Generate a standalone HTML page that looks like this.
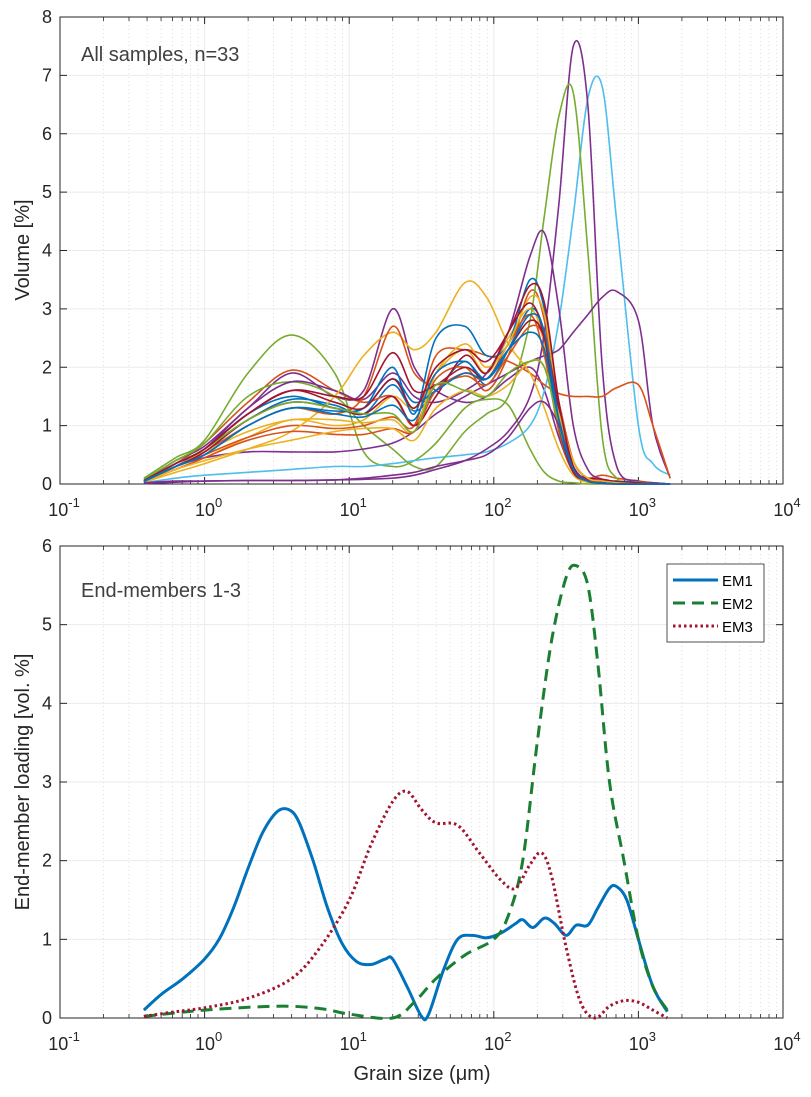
<!DOCTYPE html>
<html><head><meta charset="utf-8">
<style>
body{margin:0;background:#fff;}
svg{display:block;font-family:"Liberation Sans",sans-serif;}
</style></head>
<body>
<svg id="chart" width="811" height="1097" viewBox="0 0 811 1097" xmlns="http://www.w3.org/2000/svg">
<rect width="811" height="1097" fill="#fff"/>
<g id="top"></g>
<g id="bot"></g>
</svg>
<script>
// ---- data ----
const gridLogX = [-0.42,-0.2,0,0.3,0.6,0.9,1.1,1.3,1.45,1.6,1.8,1.95,2.1,2.25,2.35,2.45,2.55,2.65,2.75,2.85,3.0,3.1,3.22];
const sampleColors = ["#0072BD","#D95319","#EDB120","#7E2F8E","#77AC30","#4DBEEE","#A2142F"];
const s01 = [0.05,0.3,0.6,1.1,1.45,1.35,1.2,1.7,1.25,1.6,2.1,1.7,2.3,3.0,2.6,1.2,0.3,0.05,0.05,0.05,0.03,0.02,0];
const s02 = [0.06,0.35,0.7,1.4,1.95,1.6,1.4,1.5,1.0,1.8,2.0,1.6,2.2,3.3,2.8,1.0,0.2,0.1,0.15,0.1,0.05,0.02,0];
const s03 = [0.04,0.25,0.45,0.8,1.1,1.0,1.1,1.5,1.3,1.9,2.3,1.9,2.5,3.0,2.4,1.0,0.25,0.05,0.03,0.02,0.01,0,0];
const s04 = [0.05,0.4,0.65,1.3,1.9,1.5,1.6,3.0,2.0,1.6,1.4,1.5,1.8,2.0,1.6,0.8,0.2,0.03,0.02,0.01,0,0,0];
const s05 = [0.1,0.45,0.75,1.9,2.55,1.9,0.55,0.3,0.4,0.7,1.3,1.45,1.35,0.6,0.2,0.05,0.02,0,0,0,0,0,0];
const s06 = [0.02,0.1,0.15,0.2,0.25,0.3,0.3,0.35,0.4,0.45,0.5,0.55,0.7,1.0,1.6,2.8,4.6,6.6,6.8,4.5,1.0,0.35,0.15];
const s07 = [0.01,0.03,0.05,0.06,0.06,0.07,0.08,0.1,0.15,0.25,0.4,0.6,0.9,1.5,2.6,4.8,7.5,6.5,2.0,0.3,0.05,0.02,0];
const s08 = [0.08,0.4,0.7,1.5,1.75,1.5,1.0,0.6,0.3,0.3,0.9,1.2,1.5,2.8,4.6,6.3,6.7,4.0,0.8,0.1,0.03,0,0];
const s09 = [0.05,0.35,0.6,1.3,1.75,1.6,1.45,1.9,1.5,1.4,1.6,1.9,2.6,3.9,4.3,3.0,1.0,0.25,0.08,0.03,0.01,0,0];
const s10 = [0.05,0.3,0.45,0.55,0.55,0.55,0.6,0.7,0.9,1.2,1.5,1.7,1.9,2.1,2.2,2.3,2.6,2.9,3.2,3.3,2.8,1.0,0.1];
const s11 = [0.05,0.3,0.5,0.8,1.0,0.95,1.0,1.15,1.0,2.2,2.3,2.2,2.1,1.9,1.7,1.55,1.5,1.5,1.5,1.65,1.7,1.0,0.1];
const s12 = [0.03,0.2,0.35,0.6,0.9,1.5,2.2,2.6,2.3,2.6,3.45,3.2,2.4,1.9,1.3,0.6,0.15,0.03,0.01,0,0,0,0];
const s13 = [0.04,0.3,0.55,1.0,1.3,1.2,1.5,2.7,1.9,1.7,1.9,1.8,2.4,2.9,2.2,0.9,0.2,0.05,0.02,0,0,0,0];
const s14 = [0.05,0.35,0.6,1.2,1.5,1.3,1.3,2.0,1.2,2.5,2.7,2.2,2.4,3.5,3.0,1.4,0.3,0.1,0.03,0.01,0,0,0];
const s15 = [0.04,0.3,0.55,0.9,1.1,1.1,1.05,1.1,0.9,1.9,2.4,2.0,2.4,3.2,2.9,1.3,0.3,0.05,0.02,0,0,0,0];
const s16 = [0.05,0.3,0.55,1.1,1.4,1.3,1.2,1.5,1.0,1.5,2.2,1.9,2.6,3.1,2.5,1.0,0.2,0.1,0.08,0.04,0.02,0,0];
const s17 = [0.04,0.25,0.45,0.75,0.9,0.85,0.85,0.95,0.9,1.6,1.85,1.7,2.2,2.7,2.5,1.4,0.4,0.1,0.05,0.02,0,0,0];
const s18 = [0.05,0.35,0.6,1.2,1.6,1.5,1.5,2.25,1.6,1.7,2.0,1.8,2.3,2.8,2.5,1.3,0.3,0.08,0.03,0.01,0,0,0];
const s19 = [0.03,0.25,0.4,0.6,0.75,0.9,0.95,0.95,0.75,1.3,1.6,1.5,1.7,2.1,2.0,1.2,0.4,0.1,0.05,0.02,0,0,0];
const s20 = [0.04,0.3,0.5,1.0,1.3,1.25,1.3,1.8,1.4,1.6,1.9,1.8,2.3,2.6,2.3,1.0,0.25,0.05,0.02,0,0,0,0];
const s21 = [0.05,0.35,0.6,1.1,1.4,1.3,1.2,1.2,0.9,1.7,1.6,1.5,1.9,2.1,2.0,1.0,0.3,0.05,0.02,0,0,0,0];
const s22 = [0.02,0.05,0.05,0.06,0.06,0.07,0.1,0.15,0.2,0.3,0.4,0.5,0.8,1.3,1.4,1.0,0.3,0.05,0.01,0,0,0,0];
const s23 = [0.06,0.35,0.6,1.2,1.6,1.4,1.3,1.8,1.3,2.0,2.3,2.1,2.6,3.4,3.1,1.4,0.3,0.05,0.02,0,0,0,0];
const s24 = [0.05,0.3,0.5,1.0,1.3,1.2,1.15,1.35,1.1,1.9,2.1,1.8,2.3,2.9,2.6,1.1,0.25,0.05,0.02,0,0,0,0];
const samples = [s01,s02,s03,s04,s05,s06,s07,s08,s09,s10,s11,s12,s13,s14,s15,s16,s17,s18,s19,s20,s21,s22,s23,s24];
const sampleColorIdx = [0,1,2,3,4,5,3,4,3,3,1,2,1,0,2,6,1,6,2,0,4,3,6,0];

const emLogX1 = [-0.42,-0.3,-0.15,0,0.1,0.2,0.3,0.4,0.5,0.58,0.65,0.75,0.85,0.95,1.05,1.15,1.25,1.3,1.4,1.5,1.55,1.65,1.75,1.85,1.95,2.05,2.15,2.2,2.27,2.35,2.42,2.5,2.57,2.65,2.72,2.8,2.85,2.92,3.0,3.1,3.2];
const em1 = [0.1,0.3,0.5,0.75,1.0,1.4,1.9,2.35,2.62,2.65,2.5,2.0,1.4,0.95,0.72,0.68,0.75,0.75,0.4,0.02,0.05,0.6,1.0,1.05,1.02,1.08,1.2,1.25,1.15,1.27,1.2,1.05,1.18,1.18,1.4,1.65,1.67,1.5,1.0,0.4,0.08];
const emLogX2 = [-0.42,0,0.5,0.8,1.0,1.3,1.45,1.6,1.8,2.0,2.1,2.2,2.3,2.4,2.5,2.57,2.65,2.72,2.8,2.9,3.0,3.1,3.2];
const em2 = [0.02,0.1,0.15,0.12,0.05,0.0,0.2,0.5,0.8,1.0,1.3,2.0,3.5,4.8,5.6,5.75,5.5,4.5,3.0,2.0,1.0,0.4,0.1];
const emLogX3 = [-0.42,-0.2,0,0.3,0.6,0.8,1.0,1.15,1.3,1.4,1.5,1.6,1.75,1.9,2.05,2.15,2.25,2.33,2.4,2.5,2.6,2.7,2.8,2.9,3.0,3.1,3.2];
const em3 = [0.02,0.08,0.13,0.25,0.5,0.9,1.5,2.2,2.75,2.88,2.65,2.48,2.45,2.1,1.75,1.65,1.95,2.1,1.8,0.9,0.2,0.0,0.15,0.22,0.2,0.1,0.0];

const xTickExps = [-1,0,1,2,3,4];
const topYTicks = [0,1,2,3,4,5,6,7,8];
const botYTicks = [0,1,2,3,4,5,6];

// ---- layout ----
const NS="http://www.w3.org/2000/svg";
const L=60,R=783;
const X=lx=>L+(lx+1)*(R-L)/5;
function mk(tag,parent,attrs){const e=document.createElementNS(NS,tag);for(const k in attrs)e.setAttribute(k,attrs[k]);parent.appendChild(e);return e;}
function smooth(pts){
  let d="M"+pts[0][0].toFixed(1)+","+pts[0][1].toFixed(1);
  for(let i=0;i<pts.length-1;i++){
    const p0=pts[Math.max(0,i-1)],p1=pts[i],p2=pts[i+1],p3=pts[Math.min(pts.length-1,i+2)];
    const c1=[p1[0]+(p2[0]-p0[0])/6,p1[1]+(p2[1]-p0[1])/6];
    const c2=[p2[0]-(p3[0]-p1[0])/6,p2[1]-(p3[1]-p1[1])/6];
    d+="C"+c1[0].toFixed(1)+","+c1[1].toFixed(1)+" "+c2[0].toFixed(1)+","+c2[1].toFixed(1)+" "+p2[0].toFixed(1)+","+p2[1].toFixed(1);
  }
  return d;
}
function axes(g,top,bot,ymax,yticks,name){
  const Y=v=>bot-v*(bot-top)/ymax;
  for(let e=-1;e<4;e++)for(let m=2;m<10;m++){
    const x=X(e+Math.log10(m));
    mk("line",g,{x1:x,x2:x,y1:top,y2:bot,stroke:"#d4d4d4","stroke-width":0.8,"stroke-dasharray":"1,3"});
    mk("line",g,{x1:x,x2:x,y1:bot,y2:bot-4,stroke:"#262626","stroke-width":0.8});
    mk("line",g,{x1:x,x2:x,y1:top,y2:top+4,stroke:"#262626","stroke-width":0.8});
  }
  xTickExps.forEach(e=>{const x=X(e);
    mk("line",g,{x1:x,x2:x,y1:top,y2:bot,stroke:"#ebebeb","stroke-width":1});
    mk("line",g,{x1:x,x2:x,y1:bot,y2:bot-7,stroke:"#262626","stroke-width":1});
    mk("line",g,{x1:x,x2:x,y1:top,y2:top+7,stroke:"#262626","stroke-width":1});
    const t=mk("text",g,{x:x+4,y:bot+32,"font-size":18,fill:"#262626","text-anchor":"middle"});
    
    
    t.innerHTML='10<tspan dy="-9" font-size="13">'+e+'</tspan>';
  });
  yticks.forEach(v=>{const y=Y(v);
    mk("line",g,{x1:L,x2:R,y1:y,y2:y,stroke:"#ebebeb","stroke-width":1});
    mk("line",g,{x1:L,x2:L+7,y1:y,y2:y,stroke:"#262626","stroke-width":1});
    mk("line",g,{x1:R,x2:R-7,y1:y,y2:y,stroke:"#262626","stroke-width":1});
    const t=mk("text",g,{x:52,y:y+6,"font-size":18,fill:"#262626","text-anchor":"end"});
    
    
    t.textContent=v;
  });
  mk("rect",g,{x:L,y:top,width:R-L,height:bot-top,fill:"none",stroke:"#262626","stroke-width":1});
  return Y;
}
// ---- top panel ----
const gt=document.getElementById("top");


const Yt=axes(gt,17,484,8,topYTicks,"top");
samples.forEach((s,i)=>{
  const p=mk("path",gt,{d:smooth(s.map((v,j)=>[X(gridLogX[j]),Yt(v)])),fill:"none",stroke:sampleColors[sampleColorIdx[i]],"stroke-width":1.6});
  
  
});
let t=mk("text",gt,{x:81,y:61,"font-size":20,fill:"#404040"});t.textContent="All samples, n=33";

t=mk("text",gt,{x:0,y:0,"font-size":20,fill:"#262626","text-anchor":"middle",transform:"translate(29,250) rotate(-90)"});t.textContent="Volume [%]";

// ---- bottom panel ----
const gb=document.getElementById("bot");


const Yb=axes(gb,546,1018,6,botYTicks,"bottom");
const ems=[[emLogX1,em1,"#0072BD","","em1-curve"],[emLogX2,em2,"#1A7F32","12,7","em2-curve"],[emLogX3,em3,"#A2142F","2.5,3","em3-curve"]];
ems.forEach(([xs,ys,c,da,n])=>{
  const p=mk("path",gb,{d:smooth(xs.map((lx,j)=>[X(lx),Yb(ys[j])])),fill:"none",stroke:c,"stroke-width":3,"stroke-dasharray":da});
  
  
});
t=mk("text",gb,{x:81,y:597,"font-size":20,fill:"#404040"});t.textContent="End-members 1-3";

t=mk("text",gb,{x:0,y:0,"font-size":20,fill:"#262626","text-anchor":"middle",transform:"translate(29,782) rotate(-90)"});t.textContent="End-member loading [vol. %]";

t=mk("text",gb,{x:422,y:1080,"font-size":20,fill:"#262626","text-anchor":"middle"});t.textContent="Grain size (μm)";

const lg=mk("g",gb,{});

mk("rect",lg,{x:667,y:564,width:97,height:78,fill:"#fff",stroke:"#262626","stroke-width":0.8});
[["EM1","#0072BD",""],["EM2","#1A7F32","12,7"],["EM3","#A2142F","2.5,3"]].forEach(([n,c,da],i)=>{
  const y=580+i*23;
  const ln=mk("line",lg,{x1:673,x2:718,y1:y,y2:y,stroke:c,"stroke-width":3,"stroke-dasharray":da});
  
  
  const tx=mk("text",lg,{x:722,y:y+6,"font-size":15,fill:"#000"});tx.textContent=n;
  
  
});
</script>
</body></html>
